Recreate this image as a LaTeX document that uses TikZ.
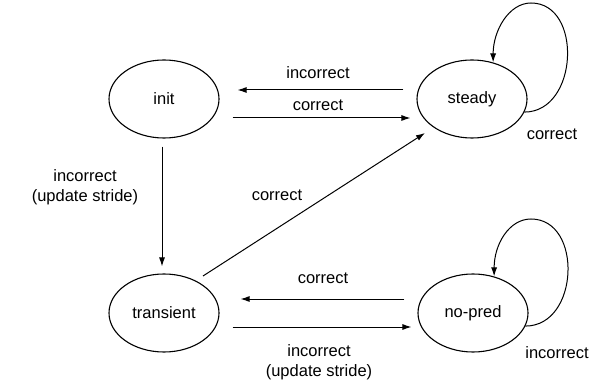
\documentclass[tikz,border=0pt]{standalone}
\usepackage{fontspec}
\setmainfont{Liberation Sans}
\usetikzlibrary{arrows.meta,positioning,shapes}

\begin{document}
\begin{tikzpicture}[x=1pt,y=1pt]
		\tikzstyle{state} = [ellipse, draw, line width=1.1pt, inner sep=0pt, minimum width=110pt, minimum height=78pt]
		\tikzstyle{arrow} = [draw, line width=1pt, -{Latex[length=9pt,width=6pt]}]
		\tikzstyle{lbl} = [inner sep=0pt, align=center]
		\useasboundingbox (0,0) rectangle (601,388);
		\fontsize{16.5}{20}\selectfont
		\node [state] (init) at (164,289) {init};
		\node [state] (steady) at (472,289) {steady};
		\node [state] (transient) at (164,75) {transient};
		\node [state] (nopred) at (473,75) {no-pred};

		% init <-> steady
		\path[arrow] ([xshift=-13pt,yshift=9pt]steady.west) -- ([xshift=18pt,yshift=9pt]init.east);
		\path[arrow] ([xshift=13pt,yshift=-19pt]init.east) -- ([xshift=-6pt,yshift=-19pt]steady.west);
		\node [lbl] at (318,315) {incorrect};
		\node [lbl] at (318,283) {correct};

		% init -> transient
		\path[arrow, shorten <=8pt, shorten >=7pt] ([xshift=-2pt]init.south) -- ([xshift=-2pt]transient.north);
		\node [lbl] at (85,201) {incorrect\\(update stride)};

		% transient -> steady
		\path[arrow] ([shift={(39,37)}]transient.center) -- ([shift={(-47,-34)}]steady.center);
		\node [lbl] at (277,193) {correct};

		% transient <-> no-pred
		\path[arrow] ([xshift=-13pt,yshift=14pt]nopred.west) -- ([xshift=21pt,yshift=14pt]transient.east);
		\path[arrow] ([xshift=13pt,yshift=-14pt]transient.east) -- ([xshift=-6pt,yshift=-14pt]nopred.west);
		\node [lbl] at (323,110) {correct};
		\node [lbl] at (319,26) {incorrect\\(update stride)};

		% self loops
		\path[arrow] (steady.-14) .. controls +(54,0) and +(52,0) .. ([shift={(59,96)}]steady.center)
			.. controls +(-22,0) and +(0,32) .. (steady.60);
		\node [lbl] at (552,254) {correct};
		\path[arrow] (nopred.-14) .. controls +(54,0) and +(52,0) .. ([shift={(58,94)}]nopred.center)
			.. controls +(-22,0) and +(0,32) .. (nopred.60);
		\node [lbl] at (557,35) {incorrect};
	\end{tikzpicture}
\end{document}
